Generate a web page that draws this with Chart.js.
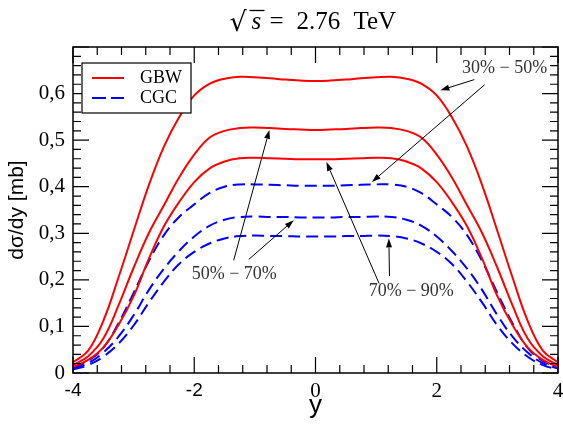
<!DOCTYPE html>
<html>
<head>
<meta charset="utf-8">
<script src="https://cdn.jsdelivr.net/npm/chart.js@4.4.1/dist/chart.umd.min.js"></script>
<style>
html,body{margin:0;padding:0;background:#fff;}
#wrap{width:563px;height:427px;}
</style>
</head>
<body>
<div id="wrap"><canvas id="c" width="563" height="427"></canvas></div>
<script>
// rapidity values (x axis)
const rapidity = [-4,-3.75,-3.5,-3.25,-3,-2.75,-2.5,-2.25,-2,-1.75,-1.5,-1.25,-1,-0.75,-0.5,-0.25,0,0.25,0.5,0.75,1,1.25,1.5,1.75,2,2.25,2.5,2.75,3,3.25,3.5,3.75,4];
// GBW model, centralities
const gbw3050 = [0.023,0.048,0.112,0.205,0.305,0.403,0.486,0.549,0.596,0.621,0.632,0.636,0.635,0.633,0.630,0.628,0.627,0.628,0.630,0.633,0.635,0.636,0.632,0.621,0.596,0.549,0.486,0.403,0.305,0.205,0.112,0.048,0.023];
const gbw5070 = [0.017,0.036,0.074,0.145,0.226,0.300,0.360,0.420,0.469,0.505,0.520,0.526,0.527,0.526,0.524,0.523,0.522,0.523,0.524,0.526,0.527,0.526,0.520,0.505,0.469,0.420,0.360,0.300,0.226,0.145,0.074,0.036,0.017];
const gbw7090 = [0.013,0.028,0.055,0.103,0.165,0.245,0.315,0.367,0.410,0.439,0.454,0.461,0.462,0.461,0.460,0.459,0.459,0.459,0.460,0.461,0.462,0.461,0.454,0.439,0.410,0.367,0.315,0.245,0.165,0.103,0.055,0.028,0.013];
// CGC model, centralities
const cgc3050 = [0.012,0.026,0.054,0.107,0.172,0.240,0.296,0.335,0.362,0.386,0.400,0.405,0.405,0.404,0.403,0.402,0.402,0.402,0.403,0.404,0.405,0.405,0.400,0.386,0.362,0.335,0.296,0.240,0.172,0.107,0.054,0.026,0.012];
const cgc5070 = [0.010,0.021,0.044,0.078,0.124,0.178,0.224,0.262,0.293,0.316,0.329,0.335,0.336,0.335,0.335,0.334,0.334,0.334,0.335,0.335,0.336,0.335,0.329,0.316,0.293,0.262,0.224,0.178,0.124,0.078,0.044,0.021,0.010];
const cgc7090 = [0.008,0.017,0.035,0.063,0.102,0.151,0.196,0.234,0.260,0.278,0.289,0.294,0.295,0.294,0.294,0.293,0.293,0.293,0.294,0.294,0.295,0.294,0.289,0.278,0.260,0.234,0.196,0.151,0.102,0.063,0.035,0.017,0.008];
// tick labels
const xTickLabels = ['-4','-2','0','2','4'];
const yTickLabels = ['0','0,1','0,2','0,3','0,4','0,5','0,6',''];
const legendLabels = ['GBW','CGC'];
const titleParts = ['s','= 2.76 TeV'];
// annotation labels (text + anchor in data coords; arrows: tail x,y -> tip x,y)
const labelTexts = ['30% − 50%','50% − 70%','70% − 90%'];
const labelAnchors = [[3.12,0.654],[-1.34,0.212],[1.58,0.176]];
const labelArrows = [
  [[2.62,0.630,2.06,0.607],[2.79,0.619,0.93,0.410]],
  [[-1.35,0.242,-0.76,0.522],[-1.10,0.244,-0.36,0.328]],
  [[1.05,0.192,0.18,0.453],[1.22,0.208,1.21,0.289]]
];

const RED = '#ff0000', BLUE = '#0000ff';
const pts = arr => arr.map((v,i)=>({x:rapidity[i], y:v}));
function ds(arr, color, dashed){
  return {data:pts(arr), borderColor:color, borderWidth:2, pointRadius:0, fill:false,
    tension:0.4, borderDash: dashed?[12,6]:[]};
}

const framePlugin = {
  id:'frame',
  afterDatasetsDraw(chart){
    const {ctx, chartArea:a, scales:{x,y}} = chart;
    ctx.save();
    // frame
    ctx.strokeStyle='#000'; ctx.lineWidth=1.5;
    ctx.strokeRect(a.left, a.top, a.right-a.left, a.bottom-a.top);
    // ticks (inward, mirrored)
    ctx.lineWidth=1.2;
    ctx.beginPath();
    for(let k=0;k<=20;k++){
      const v=-4+k*0.4; const px=x.getPixelForValue(v);
      const major = (k%5===0); const L = major?16:8;
      ctx.moveTo(px,a.bottom); ctx.lineTo(px,a.bottom-L);
      ctx.moveTo(px,a.top); ctx.lineTo(px,a.top+L);
    }
    for(let k=0;k<=35;k++){
      const v=k*0.02; const py=y.getPixelForValue(v);
      const major = (k%5===0); const L = major?16:8;
      ctx.moveTo(a.left,py); ctx.lineTo(a.left+L,py);
      ctx.moveTo(a.right,py); ctx.lineTo(a.right-L,py);
    }
    ctx.stroke();
    // annotations
    ctx.strokeStyle='#000'; ctx.fillStyle='#000'; ctx.lineWidth=1;
    labelArrows.forEach(group=>group.forEach(([x0,y0,x1,y1])=>{
      const X0=x.getPixelForValue(x0), Y0=y.getPixelForValue(y0);
      const X1=x.getPixelForValue(x1), Y1=y.getPixelForValue(y1);
      const ang=Math.atan2(Y1-Y0,X1-X0);
      const hl=9, hw=3;
      const bx=X1-hl*Math.cos(ang), by=Y1-hl*Math.sin(ang);
      ctx.beginPath(); ctx.moveTo(X0,Y0); ctx.lineTo(bx,by); ctx.stroke();
      ctx.beginPath(); ctx.moveTo(X1,Y1);
      ctx.lineTo(bx+hw*Math.sin(ang), by-hw*Math.cos(ang));
      ctx.lineTo(bx-hw*Math.sin(ang), by+hw*Math.cos(ang));
      ctx.closePath(); ctx.fill();
    }));
    ctx.fillStyle='#333';
    ctx.font='18px "Liberation Serif"'; ctx.textAlign='center'; ctx.textBaseline='middle';
    labelTexts.forEach((t,i)=>{
      ctx.fillText(t, x.getPixelForValue(labelAnchors[i][0]), y.getPixelForValue(labelAnchors[i][1]));
    });
    // legend
    const lx=a.left+9, ly=a.top+16;
    ctx.fillStyle='#fff'; ctx.fillRect(lx,ly,109,50);
    ctx.strokeStyle='#000'; ctx.lineWidth=1.2; ctx.strokeRect(lx,ly,109,50);
    ctx.lineWidth=2;
    ctx.strokeStyle=RED; ctx.setLineDash([]);
    ctx.beginPath(); ctx.moveTo(lx+10,ly+15); ctx.lineTo(lx+42,ly+15); ctx.stroke();
    ctx.strokeStyle=BLUE; ctx.setLineDash([14,5]);
    ctx.beginPath(); ctx.moveTo(lx+10,ly+35); ctx.lineTo(lx+42,ly+35); ctx.stroke();
    ctx.setLineDash([]);
    ctx.fillStyle='#000'; ctx.font='18px "Liberation Serif"'; ctx.textAlign='left';
    ctx.fillText(legendLabels[0], lx+58, ly+15);
    ctx.fillText(legendLabels[1], lx+58, ly+35);
    // title
    const cx=(a.left+a.right)/2, base=29;
    ctx.fillStyle='#000'; ctx.textBaseline='alphabetic';
    ctx.font='27px "DejaVu Serif"';
    ctx.fillText('√', cx-86, base+2);
    ctx.font='italic 25px "Liberation Serif"';
    ctx.fillText(titleParts[0], cx-64, base);
    ctx.lineWidth=1.3; ctx.strokeStyle='#000';
    ctx.beginPath(); ctx.moveTo(cx-66, 10.5); ctx.lineTo(cx-51, 10.5); ctx.stroke();
    ctx.font='25px "Liberation Serif"';
    const t2 = titleParts[1].split(' ');
    ctx.fillText(t2[0], cx-46, base);
    ctx.fillText(t2[1], cx-19, base);
    ctx.fillText(t2[2], cx+38, base);
    ctx.restore();
  }
};

new Chart(document.getElementById('c'), {
  type:'line',
  data:{datasets:[
    ds(gbw3050,RED,false), ds(gbw5070,RED,false), ds(gbw7090,RED,false),
    ds(cgc3050,BLUE,true), ds(cgc5070,BLUE,true), ds(cgc7090,BLUE,true)
  ]},
  options:{
    responsive:false, animation:false, devicePixelRatio:1,
    layout:{padding:{left:0,right:5,top:47,bottom:0}},
    plugins:{legend:{display:false}, tooltip:{enabled:false}, title:{display:false}},
    scales:{
      x:{type:'linear', min:-4, max:4,
        grid:{display:false, drawTicks:false}, border:{display:false},
        ticks:{stepSize:2, padding:6, color:'#000',
          font:(c)=> (c.tick && c.tick.value<0) ? {family:'"Liberation Sans"', size:19} : {family:'"Liberation Serif"', size:21},
          callback:(v)=>{const i=Math.round((v+4)/2); return xTickLabels[i];}},
        title:{display:true, text:'y', color:'#000', font:{family:'"Liberation Sans"', size:26}, padding:{top:0,bottom:6}},
        afterFit:(s)=>{s.height=54; s.paddingLeft=0; s.paddingRight=0;}
      },
      y:{type:'linear', min:0, max:0.7,
        grid:{display:false, drawTicks:false}, border:{display:false},
        ticks:{stepSize:0.1, padding:8, color:'#000', font:{family:'"Liberation Serif"', size:21},
          callback:(v)=>yTickLabels[Math.round(v*10)]},
        title:{display:true, text:'dσ/dy [mb]', color:'#000', font:{family:'"Liberation Sans"', size:21}, padding:{top:5,bottom:0}},
        afterFit:(s)=>{s.width=73; s.paddingTop=0; s.paddingBottom=0;}
      }
    }
  },
  plugins:[framePlugin]
});
</script>
</body>
</html>
